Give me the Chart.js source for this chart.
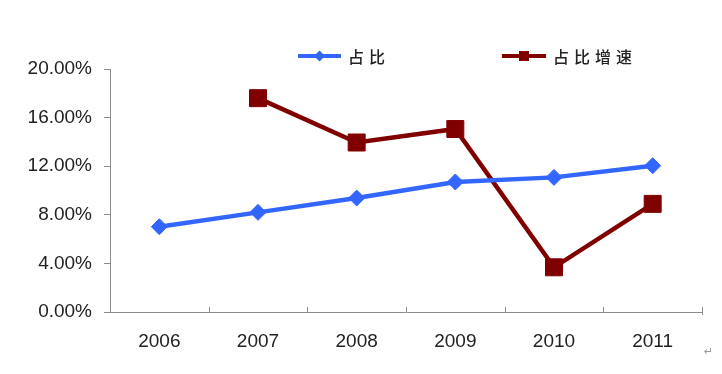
<!DOCTYPE html>
<html>
<head>
<meta charset="utf-8">
<script src="https://cdn.jsdelivr.net/npm/chart.js@4/dist/chart.umd.min.js"></script>
<style>
  html, body { margin: 0; padding: 0; background: #fff; }
  #wrap { width: 722px; height: 374px; position: relative; }
</style>
</head>
<body>
<div id="wrap"><canvas id="c" width="722" height="374"></canvas></div>
<script>
const years = ['2006', '2007', '2008', '2009', '2010', '2011'];
const shareValues = [7.02, 8.2, 9.38, 10.7, 11.08, 12.04];
const growthValues = [null, 17.6, 13.95, 15.06, 3.68, 8.9];
const yTicks = [0, 4, 8, 12, 16, 20];

const BLUE = '#3366ff';
const RED = '#800000';

// legend drawn by hand (line + marker + spaced text), like the original
const legendPlugin = {
  id: 'handLegend',
  afterDraw(chart) {
    const ctx = chart.ctx;
    const items = [
      { ds: chart.data.datasets[0], x0: 298, x1: 341, tx: 348 },
      { ds: chart.data.datasets[1], x0: 502, x1: 546, tx: 553 }
    ];
    const y = 56;
    ctx.save();
    items.forEach(it => {
      ctx.strokeStyle = it.ds.borderColor;
      ctx.lineWidth = 4;
      ctx.beginPath();
      ctx.moveTo(it.x0, y);
      ctx.lineTo(it.x1, y);
      ctx.stroke();
      ctx.fillStyle = it.ds.borderColor;
      const cx = (it.x0 + it.x1) / 2;
      if (it.ds.pointStyle === 'rectRot') {
        ctx.beginPath();
        ctx.moveTo(cx, y - 5.5);
        ctx.lineTo(cx + 5.5, y);
        ctx.lineTo(cx, y + 5.5);
        ctx.lineTo(cx - 5.5, y);
        ctx.closePath();
        ctx.fill();
      } else {
        ctx.fillRect(cx - 5, y - 5, 10, 10);
      }
      ctx.fillStyle = '#222';
      ctx.font = '500 16px "Noto Sans CJK SC"';
      ctx.letterSpacing = '5px';
      ctx.textBaseline = 'middle';
      ctx.fillText(it.ds.label, it.tx, y + 1);
    });
    ctx.letterSpacing = '0px';

    // upward tick marks on the category axis, between categories
    const xs = chart.scales.x;
    const half = (xs.getPixelForValue(1) - xs.getPixelForValue(0)) / 2;
    ctx.strokeStyle = '#8c8c8c';
    ctx.lineWidth = 1;
    for (let i = 0; i <= years.length; i++) {
      const px = Math.round(xs.getPixelForValue(i) - half) + 0.5;
      ctx.beginPath();
      ctx.moveTo(px, xs.top - 5);
      ctx.lineTo(px, xs.top + (i === years.length ? 3 : 0));
      ctx.stroke();
    }

    // stray paragraph mark from the source document
    ctx.fillStyle = '#999';
    ctx.font = '11px "DejaVu Sans"';
    ctx.textBaseline = 'middle';
    ctx.fillText('\u21B5', 704, 352);
    ctx.restore();
  }
};

new Chart(document.getElementById('c'), {
  type: 'line',
  data: {
    labels: years,
    datasets: [
      {
        label: '占比',
        data: shareValues,
        borderColor: BLUE,
        backgroundColor: BLUE,
        borderWidth: 4.5,
        pointStyle: 'rectRot',
        pointRadius: 8,
        pointBorderWidth: 1,
        tension: 0
      },
      {
        label: '占比增速',
        data: growthValues,
        borderColor: RED,
        backgroundColor: RED,
        borderWidth: 4.5,
        pointStyle: 'rect',
        pointRadius: 12,
        pointBorderWidth: 1,
        tension: 0,
        spanGaps: false
      }
    ]
  },
  options: {
    responsive: false,
    animation: false,
    layout: { padding: { left: 0, right: 20, top: 69, bottom: 0 } },
    plugins: {
      legend: { display: false },
      tooltip: { enabled: false }
    },
    scales: {
      x: {
        type: 'category',
        offset: true,
        grid: { display: false },
        border: { display: true, color: '#8c8c8c', width: 1 },
        ticks: {
          color: '#222',
          font: { family: 'Liberation Sans', size: 19 },
          padding: 10,
          maxRotation: 0
        },
        afterFit(scale) { scale.height = 62; }
      },
      y: {
        min: 0,
        max: 20,
        afterBuildTicks(scale) { scale.ticks = yTicks.map(v => ({ value: v })); },
        grid: {
          drawOnChartArea: false,
          drawTicks: true,
          tickLength: 6,
          color: '#8c8c8c'
        },
        border: { display: true, color: '#8c8c8c', width: 1 },
        ticks: {
          color: '#222',
          font: { family: 'Liberation Sans', size: 19 },
          padding: 12,
          callback: v => v.toFixed(2) + '%'
        },
        afterFit(scale) { scale.width = 110; }
      }
    }
  },
  plugins: [legendPlugin]
});
</script>
</body>
</html>
